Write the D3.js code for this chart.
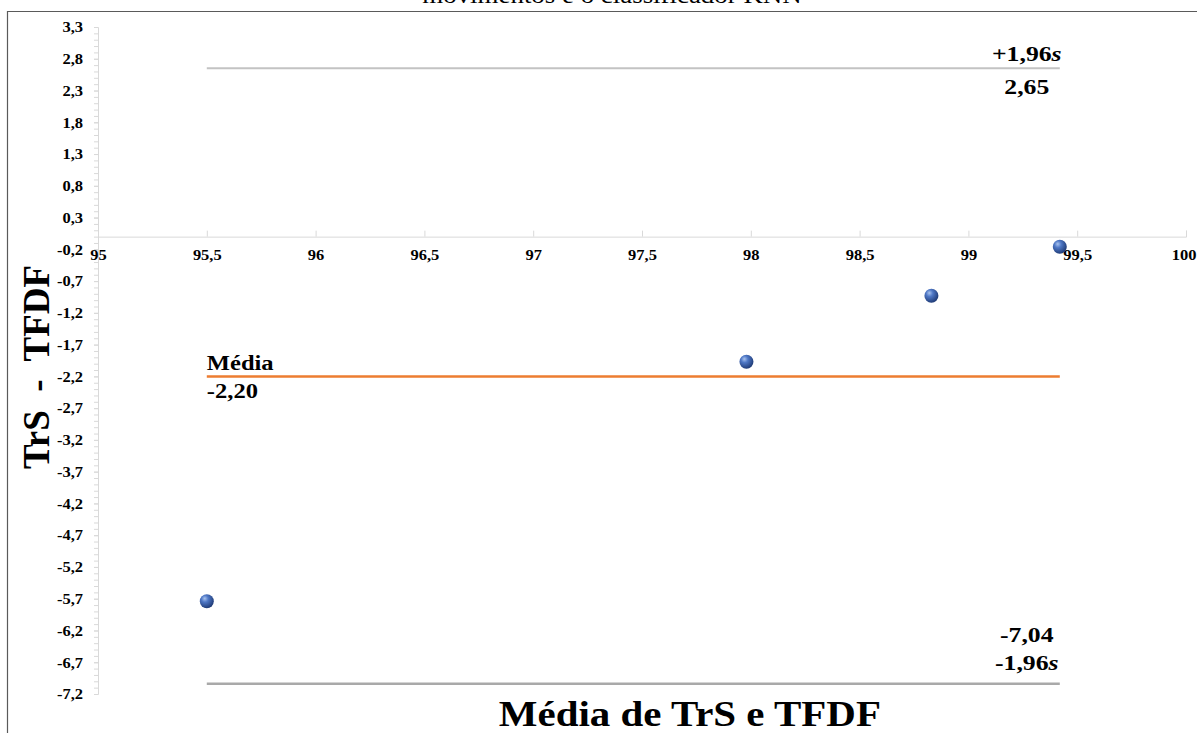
<!DOCTYPE html>
<html>
<head>
<meta charset="utf-8">
<script src="https://cdn.jsdelivr.net/npm/d3@7"></script>
<style>
  html, body { margin: 0; padding: 0; background: #fff; }
  svg { display: block; }
  text { font-family: "Liberation Serif", "Times New Roman", serif; fill: #000; }
</style>
</head>
<body>
<svg id="chart" width="1197" height="733"></svg>
<script>
// Bland-Altman data: mean of the two methods (x) and their difference (y)
const meanOfMethods = [95.5, 97.98, 98.83, 99.42];
const differences   = [-5.74, -1.97, -0.93, -0.16];

// reference lines: mean difference and limits of agreement (±1.96 s)
const meanDiff   = -2.20;
const upperLimit = 2.65;
const lowerLimit = -7.04;

// axis ticks
const xTickValues = [95, 95.5, 96, 96.5, 97, 97.5, 98, 98.5, 99, 99.5, 100];
const yTickValues = [3.3, 2.8, 2.3, 1.8, 1.3, 0.8, 0.3, -0.2, -0.7, -1.2, -1.7, -2.2,
                     -2.7, -3.2, -3.7, -4.2, -4.7, -5.2, -5.7, -6.2, -6.7, -7.2];

const fmt = v => String(Math.round(v * 100) / 100).replace(".", ",");
const fmt2 = v => v.toFixed(2).replace(".", ",");
const SX = 1.17;   // horizontal stretch of the lettering
const TSX = 1.1;   // stretch for tick labels
const W = 1197;

const svg = d3.select("#chart");

const x = d3.scaleLinear().domain([95, 100]).range([98, 1186]);
const y = d3.scaleLinear().domain([-7.2, 3.3]).range([694, 27]);

// sphere shading for the markers
const defs = svg.append("defs");
const grad = defs.append("radialGradient").attr("id", "ball")
  .attr("cx", "38%").attr("cy", "35%").attr("r", "70%").attr("fx", "35%").attr("fy", "30%");
grad.append("stop").attr("offset", "0%").attr("stop-color", "#a9c3ee");
grad.append("stop").attr("offset", "35%").attr("stop-color", "#4f78c6");
grad.append("stop").attr("offset", "100%").attr("stop-color", "#1b3670");

// caption line above the frame
svg.append("text")
  .attr("transform", `translate(612,2.5) scale(${SX},1)`)
  .attr("text-anchor", "middle")
  .style("font-size", "23px")
  .text("movimentos e o classificador KNN");

// frame
svg.append("path")
  .attr("d", "M7.5,740V11.5H1200")
  .attr("fill", "none").attr("stroke", "#5a5a5a").attr("stroke-width", 1.2);

// y axis: minor ticks
const yMinor = d3.range(-72, 34).map(v => v / 10);
svg.append("g")
  .attr("transform", "translate(98,0)")
  .call(d3.axisLeft(y).tickValues(yMinor).tickSize(4).tickFormat(""))
  .call(g => g.selectAll("line").attr("stroke", "#d9d9d9"))
  .call(g => g.select(".domain").attr("stroke", "#d9d9d9"));

// y axis: major ticks and labels
svg.append("g")
  .attr("transform", "translate(98,0)")
  .call(d3.axisLeft(y).tickValues(yTickValues).tickSize(4).tickPadding(11).tickFormat(fmt))
  .call(g => g.select(".domain").remove())
  .call(g => g.selectAll("line").attr("stroke", "#d9d9d9"))
  .call(g => g.selectAll("text")
    .attr("x", -15 / TSX)
    .attr("transform", `scale(${TSX},1)`)
    .style("font-family", "'Liberation Serif', serif")
    .style("font-weight", "bold").style("font-size", "15px").attr("fill", "#000"));

// x axis crossing at y = 0, ticks pointing up
const xAxisG = svg.append("g")
  .attr("transform", `translate(0,${y(0)})`)
  .call(d3.axisBottom(x).tickValues(xTickValues).tickSizeInner(-6).tickSizeOuter(-6)
    .tickPadding(13).tickFormat(fmt))
  .call(g => g.selectAll("line").attr("stroke", "#d9d9d9"))
  .call(g => g.select(".domain").attr("stroke", "#d9d9d9"))
  .call(g => g.selectAll("text")
    .attr("transform", `scale(${TSX},1)`)
    .style("font-family", "'Liberation Serif', serif")
    .style("font-weight", "bold").style("font-size", "15px").attr("fill", "#000"));

// keep the last tick label inside the drawing area
xAxisG.selectAll("text").each(function (d) {
  const bb = this.getBBox();
  const right = x(d) + (bb.x + bb.width) * TSX;
  if (right > W - 1) {
    d3.select(this).attr("x", (W - 1 - x(d)) / TSX - bb.width / 2);
  }
});

// reference lines spanning the data range
const x0 = x(d3.min(meanOfMethods)), x1 = x(d3.max(meanOfMethods));
const refLines = [
  { v: upperLimit, color: "#c3c3c3", w: 2 },
  { v: meanDiff,   color: "#ed7d31", w: 2.5 },
  { v: lowerLimit, color: "#a9a9a9", w: 2.5 }
];
svg.append("g").selectAll("line").data(refLines).join("line")
  .attr("x1", x0).attr("x2", x1)
  .attr("y1", d => y(d.v)).attr("y2", d => y(d.v))
  .attr("stroke", d => d.color).attr("stroke-width", d => d.w);

// line labels
function label(px, py, anchor, parts, size) {
  const t = svg.append("text")
    .attr("transform", `translate(${px},${py}) scale(${SX},1)`)
    .attr("text-anchor", anchor)
    .style("font-size", (size || 22) + "px").style("font-weight", "bold");
  parts.forEach(p => t.append("tspan").text(p.t).style("font-style", p.i ? "italic" : "normal"));
}
const lx = x1 - 33;
label(lx, y(upperLimit) - 7, "middle", [{ t: "+1,96" }, { t: "s", i: true }]);
label(lx, y(upperLimit) + 26, "middle", [{ t: fmt2(upperLimit) }]);
label(x0, y(meanDiff) - 6, "start", [{ t: "Média" }], 21);
label(x0, y(meanDiff) + 22, "start", [{ t: fmt2(meanDiff) }], 21);
label(lx, y(lowerLimit) - 42, "middle", [{ t: fmt2(lowerLimit) }]);
label(lx, y(lowerLimit) - 14, "middle", [{ t: "-1,96" }, { t: "s", i: true }]);

// data points
svg.append("g").selectAll("circle").data(meanOfMethods).join("circle")
  .attr("cx", d => x(d))
  .attr("cy", (d, i) => y(differences[i]))
  .attr("r", 7)
  .attr("fill", "url(#ball)");

// axis titles
svg.append("text")
  .attr("transform", `translate(${x(97.72)},726) scale(${SX},1)`)
  .attr("text-anchor", "middle")
  .style("font-size", "35px").style("font-weight", "bold")
  .text("Média de TrS e TFDF");

svg.append("text")
  .attr("transform", `translate(49,367) rotate(-90)`)
  .attr("text-anchor", "middle")
  .attr("xml:space", "preserve")
  .style("white-space", "pre")
  .style("font-size", "37px").style("font-weight", "bold")
  .text("TrS  -  TFDF");
</script>
</body>
</html>
